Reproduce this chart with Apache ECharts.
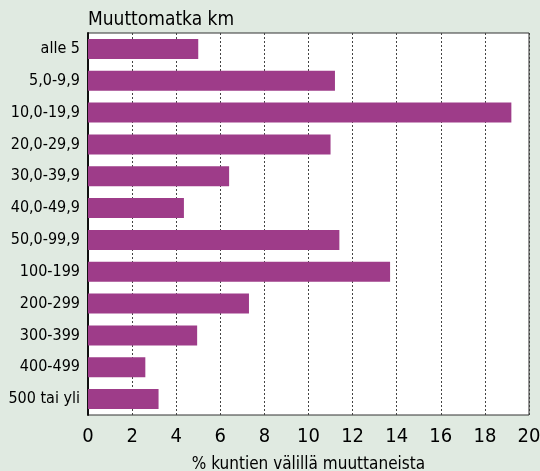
<!DOCTYPE html>
<html>
<head>
<meta charset="utf-8">
<script src="https://cdn.jsdelivr.net/npm/echarts@6/dist/echarts.min.js"></script>
<style>
  html, body { margin: 0; padding: 0; background: #e0eae1; }
  #myChart { width: 540px; height: 471px; }
</style>
</head>
<body>
<div id="myChart"></div>
<script>
  var categories = ['alle 5', '5,0-9,9', '10,0-19,9', '20,0-29,9', '30,0-39,9', '40,0-49,9',
                    '50,0-99,9', '100-199', '200-299', '300-399', '400-499', '500 tai yli'];
  var values = [5.0, 11.2, 19.2, 11.0, 6.4, 4.35, 11.4, 13.7, 7.3, 4.95, 2.6, 3.2];
  var xTicks = [0, 2, 4, 6, 8, 10, 12, 14, 16, 18, 20];

  var font = '"DejaVu Sans Condensed", "Liberation Sans Narrow", sans-serif';

  var myChart = echarts.init(document.getElementById('myChart'));
  myChart.setOption({
    backgroundColor: '#e0eae1',
    animation: false,
    title: {
      text: 'Muuttomatka km',
      left: 83, top: 6,
      textStyle: { fontFamily: font, fontSize: 19, fontWeight: 'normal', color: '#000' }
    },
    grid: {
      left: 88, right: 11, top: 33, bottom: 56,
      containLabel: false, outerBoundsMode: 'none',
      show: true, backgroundColor: '#fff', borderColor: '#333', borderWidth: 1
    },
    xAxis: {
      type: 'value',
      min: xTicks[0], max: xTicks[xTicks.length - 1], interval: 2,
      name: '% kuntien välillä muuttaneista',
      nameLocation: 'middle', nameGap: 41,
      nameTextStyle: { fontFamily: font, fontSize: 17, color: '#000' },
      axisLine: { show: false },
      axisTick: { show: false },
      axisLabel: { fontFamily: font, fontSize: 20, color: '#000', margin: 12 },
      splitLine: { show: true, lineStyle: { type: [2, 2], color: '#444', width: 1 } }
    },
    yAxis: {
      type: 'category',
      data: categories,
      inverse: true,
      axisLine: { show: true, lineStyle: { color: '#111', width: 2 } },
      axisTick: { show: false },
      axisLabel: { fontFamily: font, fontSize: 16, color: '#000', margin: 8 }
    },
    series: [{
      type: 'bar',
      data: values,
      barWidth: 20,
      itemStyle: { color: '#9e3c89' }
    }]
  });
</script>
</body>
</html>
